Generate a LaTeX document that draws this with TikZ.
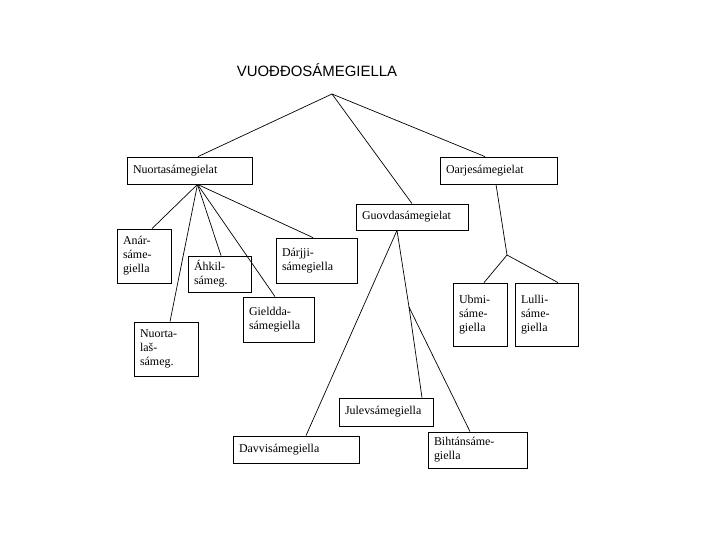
\documentclass[tikz,border=0pt]{standalone}
\usepackage{fontspec}
\setmainfont{Liberation Serif}
\newfontfamily\titlefont{Liberation Sans}
\usepackage{tikz}

\begin{document}
\begin{tikzpicture}[
  x=1bp,y=-1bp,
  font=\fontsize{12}{14}\selectfont,
  box/.style={draw,line width=0.8pt,align=left,inner xsep=6bp,inner ysep=2bp,
              anchor=center},
  link/.style={line width=0.7pt}
]
\useasboundingbox (0,0) rectangle (720,540);
\node[font=\titlefont\fontsize{15}{17}\selectfont] (title) at (317,70) {VUOĐĐOSÁMEGIELLA};
\coordinate (top) at (332,94);
% main branches
\node[box,text width=113bp,minimum height=27bp] (nuo) at (189.5,170.5) {Nuortasámegielat};
\node[box,text width=105bp,minimum height=27bp] (oar) at (498.5,170.5) {Oarjesámegielat};
\node[box,text width=100bp,minimum height=26bp] (guo) at (412,217) {Guovdasámegielat};
% east
\node[box,text width=42bp,minimum height=54bp] (anar) at (144,256) {Anár-\\sáme-\\giella};
\node[box,text width=51bp,minimum height=36bp] (ahk) at (219.5,274) {Áhkil-\\sámeg.};
\node[box,text width=69bp,minimum height=45bp] (darj) at (316.5,260.5) {Dárjji-\\sámegiella};
\node[box,text width=59bp,minimum height=45bp] (gield) at (278.5,319.5) {Gieldda-\\sámegiella};
\node[box,text width=52bp,minimum height=54bp] (nlas) at (166,349) {Nuorta-\\laš-\\sámeg.};
% central
\node[box,text width=82bp,minimum height=28bp] (julev) at (386,412) {Julevsámegiella};
\node[box,text width=114bp,minimum height=27bp] (davv) at (296,449.5) {Davvisámegiella};
\node[box,text width=87bp,minimum height=36bp] (biht) at (477.5,450) {Bihtánsáme-\\giella};
\coordinate (guosplit) at (409,307);
% south
\node[box,text width=42bp,minimum height=63bp] (ubmi) at (480,314.5) {Ubmi-\\sáme-\\giella};
\node[box,text width=51bp,minimum height=63bp] (lulli) at (546.5,314.5) {Lulli-\\sáme-\\giella};
\coordinate (oarsplit) at (507,255);

\draw[link] (top) -- ([xshift=8.5bp]nuo.north);
\draw[link] (top) -- (guo.north);
\draw[link] (top) -- ([xshift=-13.5bp]oar.north);
\draw[link] ([xshift=8bp]nuo.south) -- ([xshift=8bp]anar.north);
\draw[link] ([xshift=8bp]nuo.south) -- ([xshift=4bp]nlas.north);
\draw[link] ([xshift=8bp]nuo.south) -- ([xshift=1.5bp]ahk.north);
\draw[link] ([xshift=8bp]nuo.south) -- ([xshift=-3.5bp]gield.north);
\draw[link] ([xshift=8bp]nuo.south) -- ([xshift=-3.5bp]darj.north);
\draw[link] ([xshift=-15bp]guo.south) -- ([xshift=10bp]davv.north);
\draw[link] ([xshift=-15bp]guo.south) -- (guosplit);
\draw[link] (guosplit) -- ([xshift=36bp]julev.north);
\draw[link] (guosplit) -- ([xshift=-7.5bp]biht.north);
\draw[link] ([xshift=-2.5bp]oar.south) -- (oarsplit);
\draw[link] (oarsplit) -- ([xshift=4bp]ubmi.north);
\draw[link] (oarsplit) -- ([xshift=11.5bp]lulli.north);
\end{tikzpicture}
\end{document}
